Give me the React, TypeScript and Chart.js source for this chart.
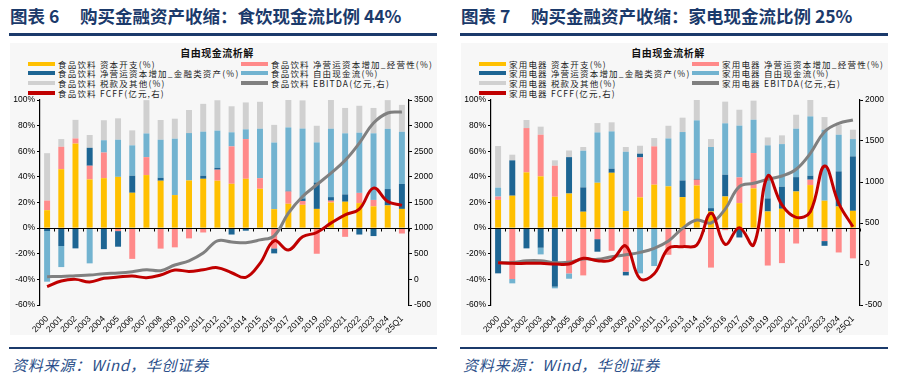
import React, { useEffect, useRef } from 'react';
import { Chart, registerables } from 'chart.js';

Chart.register(...registerables);

// ---------- data ----------
const categories = [
  '2000', '2001', '2002', '2003', '2004', '2005', '2006', '2007', '2008', '2009',
  '2010', '2011', '2012', '2013', '2014', '2015', '2016', '2017', '2018', '2019',
  '2020', '2021', '2022', '2023', '2024', '25Q1',
];

const leftTicksPct = [-60, 100, 20];

// 食品饮料
const fbCapex = [14, 46, 66, 38, 39, 40, 27.6, 41.4, 37, 25.8, 37.2, 38.5, 37, 34.6, 38.5, 30.7, 14.8, 19, 18.2, 15, 20, 20.6, 19.5, 17, 17.7, 15];
const fbNwcOperating = [7.5, 17.5, 4, 10.7, 20, -2.3, -24, 14, -16, -15, -8, -3.4, 8.6, 29.2, 31, 8.3, -15.8, 9.6, 3, -20, 1.4, -6.8, 8, 5, 0, -4.2];
const fbNwcFinancial = [-2.3, -14, -15.8, 14, -16.4, -12.2, 13.3, 0, 2.3, 0, 0, 2.4, 1.5, -5, -2, 0, -3.9, 0.6, 2, 20.6, 2.8, 5.7, -5, -6.2, 12.8, 19.5];
const fbFreeCashFlow = [-39.5, -16.4, 0, -27.5, 9.6, 29, 23.7, 18.5, 29.7, 44, 37, 34.4, 29, 11, 7.6, 38.6, 52, 49.4, 54.5, 31.3, 53.4, 47.7, 47, 52, 47, 40.7];
const fbTaxOther = [37, 6, 14.5, 10, 15.6, 16.7, 11.7, 26, 15.4, 15.6, 18, 21.7, 23.7, 20.3, 21, 21, 13.8, 21.4, 22, 13, 22.4, 19.8, 21, 19.8, 22.4, 21];
const fbEbitda = [52, 58, 72, 85, 110, 125, 150, 188, 170, 280, 363, 513, 750, 730, 715, 770, 850, 1293, 1618, 1846, 2074, 2322, 2660, 3050, 3246, 3266];
const fbFcff = [-143, -33, 0, -50, 20, 45, 65, 33, 85, 182, 155, 188, 228, 130, 40, 312, 753, 572, 830, 915, 1098, 1260, 1371, 1781, 1521, 1443];
const fbRightTicks = [-500, 3500, 500];

// 家用电器
const haCapex = [22, 25.3, 43.5, 40.4, 24.5, 27, 12.8, 35.4, 43.2, 13.3, 24, 33.9, 32.6, 24.2, 33.3, 13, 24.7, 19.5, 31, 13, 15.1, 28.6, 33.6, 21.4, 16.9, 13.5];
const haNwcOperating = [2.6, -39.7, 34.6, 32.5, 24.2, -35.3, -36.9, -8.6, -17.7, -34, 31.2, 29.9, -20.8, -15, 4.5, -30.8, -1.6, 20.1, 27.6, -29.2, -27.3, -12, 4.2, -10.1, -19, -23.6];
const haNwcFinancial = [-35.3, 27.6, -15.8, -15.3, -45.7, 28.4, 19, -9.8, 3.2, -2.9, 2.9, 0, 0, 13, 0.7, 2.6, 17, -7.3, 0, 10.2, 17.2, 11.2, 3.1, -3.7, 27.4, 42.5];
const haFreeCashFlow = [7, -3.4, 0, -5.2, -1.3, -4.2, 28.6, 39.3, 29.1, 46.3, -35.3, -29.6, 37.4, 37.8, 45.6, 47.7, 40.1, 40.4, 26, 41.4, 33.3, 37.8, 46.3, 55.4, 28.6, 13.5];
const haTaxOther = [32.5, 4.4, 6.3, 6.3, 4.2, 5.2, 2.9, 7.3, 7.1, 3.7, 6.2, 6.5, 9.9, 11.2, 15.9, 6.2, 16.9, 12.4, 14.9, 6.2, 6.8, 10.9, 12.8, 9.9, 7.8, 7.3];
const haEbitda = [16, 17, 40, 40, 16, 20, 61, 57, 89, 113, 142, 191, 280, 435, 537, 500, 670, 943, 984, 1033, 1073, 1155, 1350, 1613, 1716, 1756];
const haFcff = [16, 8, 8, 8, 0, 0, 69, 40, 49, 220, -180, -120, 191, 211, 232, 618, 240, 443, 232, 1073, 720, 569, 638, 1195, 740, 455];
const haRightTicks = [-500, 2000, 500];

const seriesSuffixes = [
  '资本开支(%)',
  '净营运资本增加_经营性(%)',
  '净营运资本增加_金融类资产(%)',
  '自由现金流(%)',
  '税款及其他(%)',
  'EBITDA(亿元,右)',
  'FCFF(亿元,右)',
];

const chartSubTitle = '自由现金流析解';
const sourceText = '资料来源：Wind，华创证券';

// ---------- styles ----------
const C = {
  capex: '#FFC000',
  nwcOp: '#FF8A8A',
  nwcFin: '#1D6593',
  fcf: '#72B3D0',
  tax: '#D0D0D0',
  ebitda: '#808080',
  fcff: '#C00000',
  navy: '#1B3A6B',
  source: '#2B4F8A',
};
const seriesColors = [C.capex, C.nwcOp, C.nwcFin, C.fcf, C.tax, C.ebitda, C.fcff];
const tickFont = { family: 'Liberation Sans, Arial, sans-serif', size: 8.5 };

const zeroLinePlugin = {
  id: 'zeroLine',
  beforeDatasetDraw(chart: any, args: any) {
    if (args.index !== 1) return;
    const ctx = chart.ctx;
    const area = chart.chartArea;
    const y0 = Math.round(chart.scales.y.getPixelForValue(0)) + 0.5;
    ctx.save();
    ctx.strokeStyle = '#000';
    ctx.lineWidth = 1;
    ctx.beginPath();
    ctx.moveTo(area.left, y0);
    ctx.lineTo(area.right, y0);
    const n = chart.data.labels.length;
    const w = (area.right - area.left) / n;
    for (let i = 1; i <= n; i++) {
      const x = Math.round(area.left + i * w) + 0.5;
      ctx.moveTo(x, y0);
      ctx.lineTo(x, y0 + 3);
    }
    ctx.stroke();
    ctx.restore();
  },
};

interface PanelData {
  capex: number[];
  nwcOp: number[];
  nwcFin: number[];
  fcf: number[];
  tax: number[];
  ebitda: number[];
  fcff: number[];
  rightTicks: number[];
}

function ChartCanvas({ d, left, top, width, height }: { d: PanelData; left: number; top: number; width: number; height: number }) {
  const ref = useRef<HTMLCanvasElement>(null);
  useEffect(() => {
    if (!ref.current) return;
    const bar = (data: number[], color: string) => ({
      type: 'bar' as const,
      data,
      backgroundColor: color,
      borderWidth: 0,
      stack: 's',
      yAxisID: 'y',
      order: 1,
      categoryPercentage: 1,
      barPercentage: 0.42,
    });
    const chart = new Chart(ref.current, {
      type: 'bar',
      data: {
        labels: categories,
        datasets: [
          { type: 'line', data: d.fcff, yAxisID: 'y1', borderColor: C.fcff, backgroundColor: C.fcff, borderWidth: 3, pointRadius: 0, tension: 0.4, order: -1, fill: false } as any,
          { type: 'line', data: d.ebitda, yAxisID: 'y1', borderColor: C.ebitda, backgroundColor: C.ebitda, borderWidth: 3, pointRadius: 0, tension: 0.4, order: 0, fill: false } as any,
          bar(d.capex, C.capex),
          bar(d.nwcOp, C.nwcOp),
          bar(d.nwcFin, C.nwcFin),
          bar(d.fcf, C.fcf),
          bar(d.tax, C.tax),
        ],
      },
      options: {
        responsive: false,
        animation: false,
        layout: { padding: { top: 10, left: 0, right: 0, bottom: 0 } },
        plugins: { legend: { display: false }, tooltip: { enabled: false }, title: { display: false } },
        scales: {
          x: {
            stacked: true,
            grid: { display: false },
            border: { display: false },
            ticks: { maxRotation: 45, minRotation: 45, autoSkip: false, font: tickFont, color: '#000', padding: 1 },
            afterFit: (s: any) => { s.height = 28; },
          },
          y: {
            stacked: true,
            position: 'left',
            min: leftTicksPct[0],
            max: leftTicksPct[1],
            ticks: { stepSize: leftTicksPct[2], autoSkip: false, callback: (v: any) => v + '%', font: tickFont, color: '#000', padding: 2 },
            grid: { drawOnChartArea: false, tickLength: 3, color: '#000' },
            border: { color: '#000', width: 1.2 },
            afterFit: (s: any) => { s.width = 30; },
          },
          y1: {
            stacked: false,
            position: 'right',
            min: d.rightTicks[0],
            max: d.rightTicks[1],
            ticks: { stepSize: d.rightTicks[2], autoSkip: false, callback: (v: any) => String(v), font: tickFont, color: '#000', padding: 2 },
            grid: { drawOnChartArea: false, tickLength: 3, color: '#000' },
            border: { color: '#000', width: 1.2 },
            afterFit: (s: any) => { s.width = 28; },
          },
        },
      } as any,
      plugins: [zeroLinePlugin],
    });
    return () => chart.destroy();
  }, []);
  return <canvas ref={ref} width={width} height={height} style={{ position: 'absolute', left, top, width, height }} />;
}

function Panel({ off, figNo, title, prefix, d }: { off: number; figNo: string; title: string; prefix: string; d: PanelData }) {
  const legendRows = [63.5, 73.2, 82.9, 92.6];
  const legendSlots = [
    { col: 0, row: 0 }, { col: 1, row: 0 },
    { col: 0, row: 1 }, { col: 1, row: 1 },
    { col: 0, row: 2 }, { col: 1, row: 2 },
    { col: 0, row: 3 },
  ];
  const colX = [28, 241];
  const abs: React.CSSProperties = { position: 'absolute', whiteSpace: 'nowrap' };
  return (
    <>
      <div style={{ ...abs, left: off + 10, top: 6, fontFamily: 'Noto Sans CJK SC', fontWeight: 700, fontSize: 17.5, lineHeight: '20px', color: C.navy }}>图表 {figNo}</div>
      <div style={{ ...abs, left: off + 80, top: 6, fontFamily: 'Noto Sans CJK SC', fontWeight: 700, fontSize: 17.5, lineHeight: '20px', color: C.navy }}>{title}</div>
      <div style={{ ...abs, left: off + 9, top: 33, width: 428, height: 2.5, background: C.navy }} />
      <div style={{ ...abs, left: off + 10, top: 43, width: 427, height: 292, background: '#F7F7F7' }} />
      <div style={{ ...abs, left: off + 10, top: 47, width: 414, textAlign: 'center', fontFamily: 'Noto Sans CJK SC', fontWeight: 700, fontSize: 10, lineHeight: '12px', letterSpacing: '0.5px', color: '#111' }}>{chartSubTitle}</div>
      {seriesSuffixes.map((s, i) => {
        const slot = legendSlots[i];
        const x = off + colX[slot.col];
        const y = legendRows[slot.row];
        return (
          <React.Fragment key={i}>
            <div style={{ ...abs, left: x, top: y - 2, width: 27, height: 4, background: seriesColors[i] }} />
            <div style={{ ...abs, left: x + 30, top: y - 6, fontFamily: 'Noto Sans CJK SC', fontSize: 8.5, lineHeight: '12px', letterSpacing: '1.2px', color: '#222' }}>{prefix} {s}</div>
          </React.Fragment>
        );
      })}
      <ChartCanvas d={d} left={off + 10} top={90} width={427} height={243} />
      <div style={{ ...abs, left: off + 9, top: 346.5, width: 428, height: 2.5, background: C.navy }} />
      <div style={{ ...abs, left: off + 12, top: 356, fontFamily: 'Noto Sans CJK SC', fontStyle: 'italic', fontSize: 15, lineHeight: '18px', letterSpacing: '0.8px', color: C.source }}>{sourceText}</div>
    </>
  );
}

export default function App() {
  const fb: PanelData = { capex: fbCapex, nwcOp: fbNwcOperating, nwcFin: fbNwcFinancial, fcf: fbFreeCashFlow, tax: fbTaxOther, ebitda: fbEbitda, fcff: fbFcff, rightTicks: fbRightTicks };
  const ha: PanelData = { capex: haCapex, nwcOp: haNwcOperating, nwcFin: haNwcFinancial, fcf: haFreeCashFlow, tax: haTaxOther, ebitda: haEbitda, fcff: haFcff, rightTicks: haRightTicks };
  return (
    <div style={{ position: 'absolute', left: 0, top: 0, width: 899, height: 382, background: '#fff', overflow: 'hidden' }}>
      <Panel off={0} figNo="6" title="购买金融资产收缩：食饮现金流比例 44%" prefix="食品饮料" d={fb} />
      <Panel off={451} figNo="7" title="购买金融资产收缩：家电现金流比例 25%" prefix="家用电器" d={ha} />
    </div>
  );
}
